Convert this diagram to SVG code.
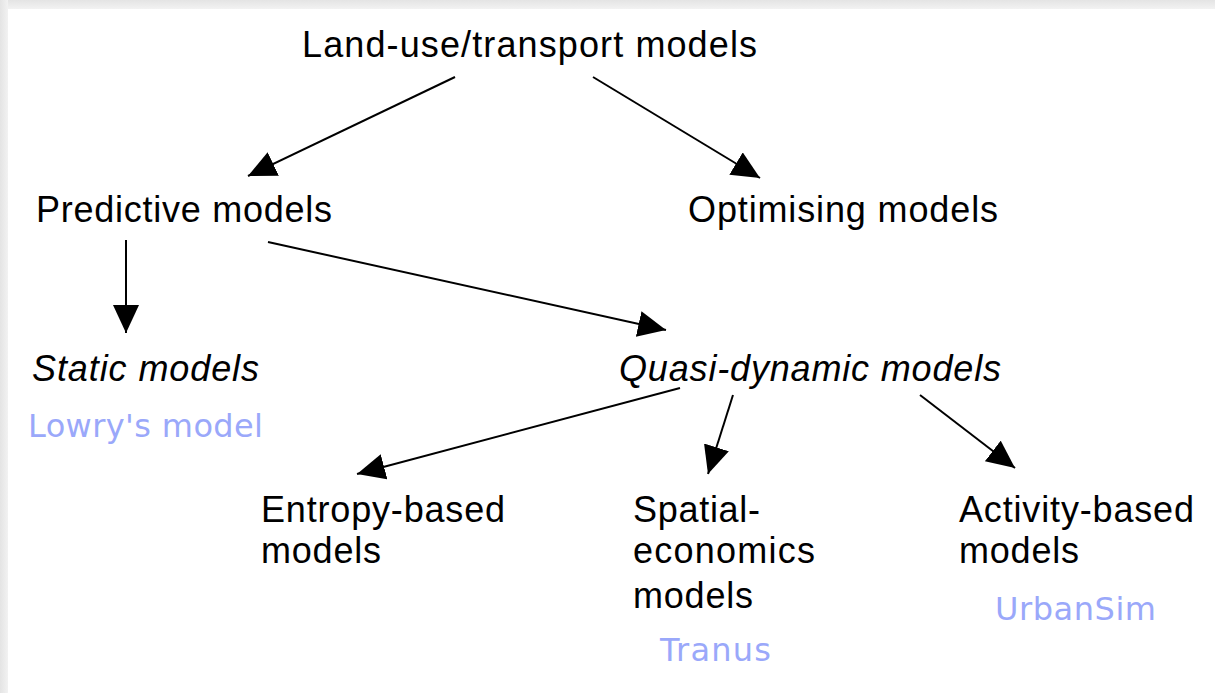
<svg xmlns="http://www.w3.org/2000/svg" width="1215" height="693" viewBox="0 0 1215 693">
<style>
.t{font-family:"Liberation Sans",Arial,sans-serif;font-size:36px;fill:#000;}
.i{font-style:italic;}
.h{font-family:"DejaVu Sans",sans-serif;font-size:32px;fill:#9aa8fa;}
.c{stroke:#000;stroke-width:2;fill:none;marker-end:url(#ah);}
</style>
<defs>
<marker id="ah" markerUnits="userSpaceOnUse" markerWidth="30" markerHeight="28" refX="28" refY="13" orient="auto">
<path d="M0,0 L28,13 L0,26 Z" fill="#000"/>
</marker>
<linearGradient id="gt" x1="0" y1="0" x2="0" y2="1"><stop offset="0" stop-color="#e4e4e4"/><stop offset="1" stop-color="#f2f2f2"/></linearGradient>
<linearGradient id="gl" x1="0" y1="0" x2="1" y2="0"><stop offset="0" stop-color="#e4e4e4"/><stop offset="1" stop-color="#f2f2f2"/></linearGradient>
</defs>
<rect x="0" y="0" width="1215" height="9" fill="url(#gt)"/>
<rect x="0" y="0" width="8" height="693" fill="url(#gl)"/>
<rect x="8" y="9" width="1207" height="684" fill="#fff"/>
<g id="connectors">
<line class="c" x1="455" y1="77" x2="248" y2="176"/>
<line class="c" x1="593" y1="77" x2="760" y2="178"/>
<line class="c" x1="126" y1="240" x2="126" y2="333"/>
<line class="c" x1="268" y1="242" x2="666" y2="330"/>
<line class="c" x1="680" y1="388" x2="357" y2="474"/>
<line class="c" x1="733" y1="395" x2="708" y2="474"/>
<line class="c" x1="920" y1="395" x2="1015" y2="468"/>
</g>
<g id="n-landuse"><text class="t" x="302" y="57" textLength="455">Land-use/transport models</text></g>
<g id="n-predictive"><text class="t" x="36" y="222" textLength="296">Predictive models</text></g>
<g id="n-optimising"><text class="t" x="688" y="222" textLength="310">Optimising models</text></g>
<g id="n-static"><text class="t i" x="32" y="381" textLength="227">Static models</text></g>
<g id="n-quasi"><text class="t i" x="619" y="381" textLength="382">Quasi-dynamic models</text></g>
<g id="n-lowry"><text class="h" x="28" y="437" textLength="235">Lowry's model</text></g>
<g id="n-entropy"><text class="t" x="261" y="522" textLength="244">Entropy-based</text><text class="t" x="261" y="563" textLength="120">models</text></g>
<g id="n-spatial"><text class="t" x="633" y="522" textLength="127">Spatial-</text><text class="t" x="633" y="563" textLength="182">economics</text><text class="t" x="633" y="608" textLength="120">models</text></g>
<g id="n-activity"><text class="t" x="959" y="522" textLength="235">Activity-based</text><text class="t" x="959" y="563" textLength="120">models</text></g>
<g id="n-tranus"><text class="h" x="660" y="661" textLength="111">Tranus</text></g>
<g id="n-urbansim"><text class="h" x="995" y="620" textLength="161">UrbanSim</text></g>
</svg>
